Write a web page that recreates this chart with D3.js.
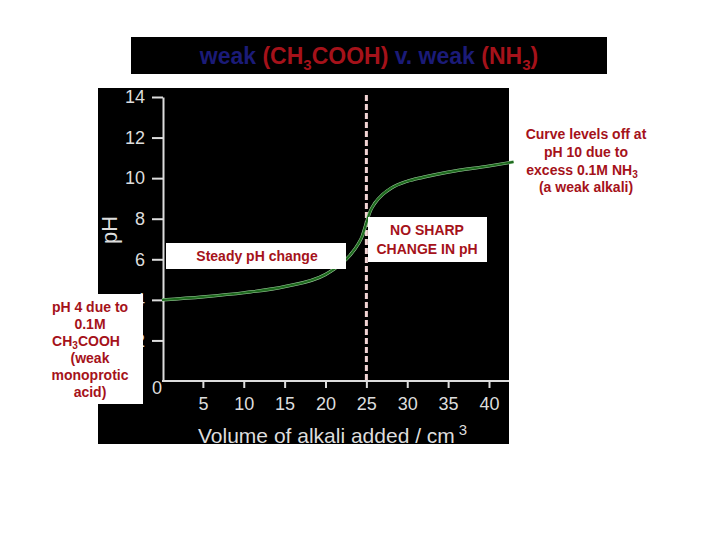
<!DOCTYPE html>
<html>
<head>
<meta charset="utf-8">
<script src="https://cdn.jsdelivr.net/npm/d3@7"></script>
<style>
  body { margin: 0; background: #fff; }
  svg { font-family: "Liberation Sans", Arial, sans-serif; }
</style>
</head>
<body>
<svg id="chart" width="720" height="540"></svg>
<script>
// titration curve: weak acid v. weak alkali
const volumes = [0, 5, 10, 15, 20, 21, 22, 23, 24, 24.5, 25, 25.5, 26, 27, 28, 30, 32, 35, 40, 43]
const ph_values = [4.0, 4.15, 4.35, 4.65, 5.25, 5.5, 5.8, 6.2, 6.75, 7.15, 7.8, 8.4, 8.75, 9.2, 9.5, 9.85, 10.05, 10.3, 10.6, 10.8]

const x_ticks = [5, 10, 15, 20, 25, 30, 35, 40]
const y_ticks = [0, 2, 4, 6, 8, 10, 12, 14]
const equivalence_volume = 25

const red = "#a5121a"
const navy = "#1b1b78"
const note_size = 14

const svg = d3.select("#chart")

// title box
svg.append("rect").attr("x", 131).attr("y", 37).attr("width", 476).attr("height", 37).attr("fill", "#000")
const title = svg.append("text")
  .attr("x", 369).attr("y", 64)
  .attr("text-anchor", "middle")
  .attr("font-size", 23).attr("font-weight", "bold")
title.append("tspan").attr("fill", navy).text("weak ")
title.append("tspan").attr("fill", red).text("(CH")
title.append("tspan").attr("fill", red).attr("font-size", 15).attr("dy", 6).text("3")
title.append("tspan").attr("fill", red).attr("dy", -6).text("COOH) ")
title.append("tspan").attr("fill", navy).text("v. weak ")
title.append("tspan").attr("fill", red).text("(NH")
title.append("tspan").attr("fill", red).attr("font-size", 15).attr("dy", 6).text("3")
title.append("tspan").attr("fill", red).attr("dy", -6).text(")")

// chart panel
svg.append("rect").attr("x", 98).attr("y", 88).attr("width", 411).attr("height", 356).attr("fill", "#000")

const x = d3.scaleLinear().domain([0, 40]).range([162, 489])
const y = d3.scaleLinear().domain([0, 14]).range([381, 97])

// y axis
const y_axis = svg.append("g")
  .attr("transform", "translate(163,0)")
  .call(d3.axisLeft(y).tickValues(y_ticks).tickSize(11).tickPadding(7).tickSizeOuter(0))
y_axis.select(".domain").attr("stroke", "#ddd").attr("stroke-width", 2)
y_axis.selectAll(".tick line").attr("stroke", "#ddd").attr("stroke-width", 2)
y_axis.selectAll(".tick text").attr("fill", "#ddd").attr("font-size", 18)
  .attr("font-family", "'Liberation Sans', Arial, sans-serif")
// the 0 label sits below-left of the origin, no tick mark
y_axis.selectAll(".tick").filter(d => d == 0).select("line").remove()
y_axis.selectAll(".tick").filter(d => d == 0).select("text").attr("x", -1).attr("dy", "0.7em")

// x axis
const x_axis = svg.append("g")
  .attr("transform", "translate(0,381)")
  .call(d3.axisBottom(x).tickValues(x_ticks).tickSize(7).tickPadding(9).tickSizeOuter(0))
x_axis.select(".domain").remove()
x_axis.selectAll(".tick line").attr("stroke", "#ddd").attr("stroke-width", 2)
x_axis.selectAll(".tick text").attr("fill", "#ddd").attr("font-size", 18)
  .attr("font-family", "'Liberation Sans', Arial, sans-serif")
svg.append("line")
  .attr("x1", x(0)).attr("x2", 509).attr("y1", 381).attr("y2", 381)
  .attr("stroke", "#ddd").attr("stroke-width", 2)

// axis titles
const x_title = svg.append("text")
  .attr("x", 198).attr("y", 443)
  .attr("fill", "#ddd").attr("font-size", 21)
  .text("Volume of alkali added / cm")
x_title.append("tspan").attr("font-size", 15).attr("dx", 4).attr("dy", -8).text("3")

svg.append("text")
  .attr("transform", "translate(117,230) rotate(-90)")
  .attr("text-anchor", "middle")
  .attr("fill", "#ddd").attr("font-size", 22)
  .text("pH")

// equivalence line
svg.append("line")
  .attr("x1", x(equivalence_volume)).attr("x2", x(equivalence_volume))
  .attr("y1", 95).attr("y2", 381)
  .attr("stroke", "#f2d4d4").attr("stroke-width", 3)
  .attr("stroke-dasharray", "6,3")

// curve
const line = d3.line()
  .x((d, i) => x(volumes[i]))
  .y(d => y(d))
  .curve(d3.curveMonotoneX)

svg.append("path")
  .attr("d", line(ph_values))
  .attr("fill", "none")
  .attr("stroke", "#9fd09f").attr("stroke-width", 3.2)
svg.append("path")
  .attr("d", line(ph_values))
  .attr("fill", "none")
  .attr("stroke", "#1f6a1f").attr("stroke-width", 2.2)

// annotations
function label_box(bx, by, bw, bh){
  svg.append("rect").attr("x", bx).attr("y", by).attr("width", bw).attr("height", bh).attr("fill", "#fff")
}

function note(){
  return svg.append("text")
    .attr("text-anchor", "middle").attr("fill", red)
    .attr("font-size", note_size).attr("font-weight", "bold")
}

label_box(166, 243, 180, 26)
note().attr("x", 257).attr("y", 261).text("Steady pH change")

label_box(368, 217, 119, 45)
const sharp = note()
sharp.append("tspan").attr("x", 427).attr("y", 235).text("NO SHARP")
sharp.append("tspan").attr("x", 427).attr("y", 254).text("CHANGE IN pH")

const levels = note()
levels.append("tspan").attr("x", 586).attr("y", 139).text("Curve levels off at")
levels.append("tspan").attr("x", 586).attr("y", 157).text("pH 10 due to")
levels.append("tspan").attr("x", 582).attr("y", 175).text("excess 0.1M NH")
levels.append("tspan").attr("font-size", 10).attr("dy", 3).text("3")
levels.append("tspan").attr("x", 586).attr("y", 192).text("(a weak alkali)")

label_box(48, 294, 95, 110)
const acid = note()
acid.append("tspan").attr("x", 90).attr("y", 312).text("pH 4 due to")
acid.append("tspan").attr("x", 90).attr("y", 329).text("0.1M")
acid.append("tspan").attr("x", 86).attr("y", 346).text("CH")
acid.append("tspan").attr("font-size", 10).attr("dy", 3).text("3")
acid.append("tspan").attr("dy", -3).text("COOH")
acid.append("tspan").attr("x", 90).attr("y", 363).text("(weak")
acid.append("tspan").attr("x", 90).attr("y", 380).text("monoprotic")
acid.append("tspan").attr("x", 90).attr("y", 397).text("acid)")
</script>
</body>
</html>
